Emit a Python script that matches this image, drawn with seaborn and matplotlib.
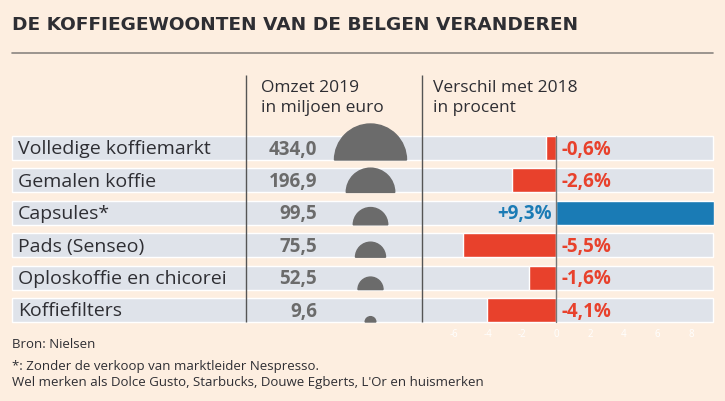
import numpy as np
import pandas as pd
import matplotlib
matplotlib.use("Agg")
import matplotlib.pyplot as plt
from matplotlib.patches import Wedge
import seaborn as sns

# Data
categories = ["Volledige koffiemarkt", "Gemalen koffie", "Capsules*", "Pads (Senseo)",
              "Oploskoffie en chicorei", "Koffiefilters"]
omzet = [434.0, 196.9, 99.5, 75.5, 52.5, 9.6]
verschil = [-0.6, -2.6, 9.3, -5.5, -1.6, -4.1]
ticks = [-6, -4, -2, 0, 2, 4, 6, 8]

df = pd.DataFrame({"cat": categories, "omzet": omzet, "verschil": verschil})

BG = "#fdeee0"
BAND = "#dfe3ea"
RED = "#e8412c"
BLUE = "#1a7bb5"
DARK = "#2e2e33"
GREY = "#6b6b6b"

sns.set_style("white")
plt.rcParams["font.family"] = ["Open Sans", "DejaVu Sans"]

W, H = 725, 401
fig = plt.figure(figsize=(W / 100, H / 100), dpi=100, facecolor=BG)

# background axes in pixel coordinates
bg = fig.add_axes([0, 0, 1, 1])
bg.set_xlim(0, W)
bg.set_ylim(H, 0)
bg.axis("off")
bg.set_facecolor(BG)

row0, step, band_h = 148, 32.4, 24
rows = row0 + step * np.arange(len(categories))
dy = 1.5  # small nudge, Open Sans sits a bit high

# row bands
bg.barh(rows, width=701, left=12, height=band_h, color=BAND, zorder=1)

# title + rule
bg.text(12, 25, "DE KOFFIEGEWOONTEN VAN DE BELGEN VERANDEREN", fontsize=13.3,
        fontweight="bold", color=DARK, va="center", ha="left",
        family=["DejaVu Sans"])
bg.plot([12, 713], [53, 53], color="#8a8580", lw=1.2)

# column separators
bg.vlines([246, 422], 75, 322, color="#555", lw=1, zorder=3)

# headers
bg.text(261, 86 + dy, "Omzet 2019", fontsize=12.5, color=DARK, va="center")
bg.text(261, 106 + dy, "in miljoen euro", fontsize=12.5, color=DARK, va="center")
bg.text(433, 86 + dy, "Verschil met 2018", fontsize=12.5, color=DARK, va="center")
bg.text(433, 106 + dy, "in procent", fontsize=12.5, color=DARK, va="center")

# labels, values and half circles (area ~ omzet)
rmax = 36
for y, cat, val in zip(rows, categories, omzet):
    bg.text(18, y + dy, cat, fontsize=14, color=DARK, va="center", zorder=4)
    bg.text(317, y + dy, f"{val:.1f}".replace(".", ","), fontsize=13.5, color=GREY,
            fontweight="bold", ha="right", va="center", zorder=4)
    r = rmax * np.sqrt(val / max(omzet))
    bg.add_patch(Wedge((370.5, y + band_h / 2), r, 180, 360, color=GREY, zorder=4))

# footer
bg.text(12, 343 + dy, "Bron: Nielsen", fontsize=9.5, color=DARK, va="center")
bg.text(12, 365 + dy, "*: Zonder de verkoop van marktleider Nespresso.", fontsize=9.5,
        color=DARK, va="center")
bg.text(12, 381 + dy, "Wel merken als Dolce Gusto, Starbucks, Douwe Egberts, L'Or en huismerken",
        fontsize=9.5, color=DARK, va="center")

# bar chart of the change
x0, x1 = -7.85, 9.3
px_per = 16.95
left_px = 556 + x0 * px_per
right_px = 556 + x1 * px_per
top_px = row0 - step / 2
bot_px = rows[-1] + step / 2
ax = fig.add_axes([left_px / W, 1 - bot_px / H, (right_px - left_px) / W, (bot_px - top_px) / H])
ax.patch.set_alpha(0)
colors = [BLUE if v > 0 else RED for v in verschil]
sns.barplot(data=df, x="verschil", y="cat", hue="cat", palette=colors, legend=False,
            orient="h", width=band_h / step, saturation=1, ax=ax)
ax.set_xlim(x0, x1)
ax.set_ylim(len(categories) - 0.5, -0.5)
ax.axvline(0, ymin=(bot_px - 322) / (bot_px - top_px), ymax=(bot_px - 136) / (bot_px - top_px),
           color="#777", lw=1)
for i, v in enumerate(verschil):
    txt = ("+" if v > 0 else "") + f"{v:.1f}".replace(".", ",") + "%"
    yy = i + dy / step
    if v > 0:
        ax.text(-0.25, yy, txt, color=BLUE, fontsize=13.5, fontweight="bold", ha="right", va="center")
    else:
        ax.text(0.3, yy, txt, color=RED, fontsize=13.5, fontweight="bold", ha="left", va="center")
ax.set_xticks(ticks)
ax.set_xticklabels([str(t) for t in ticks])
ax.tick_params(axis="x", length=0, pad=2, labelsize=7, labelcolor="white")
ax.set_yticks([])
ax.set_xlabel("")
ax.set_ylabel("")
for s in ax.spines.values():
    s.set_visible(False)

fig.savefig("out.png", dpi=100, facecolor=BG)
